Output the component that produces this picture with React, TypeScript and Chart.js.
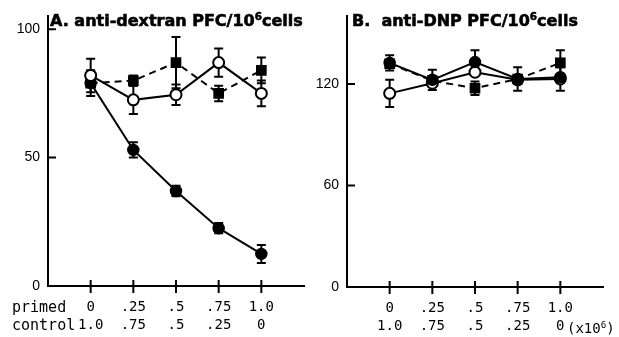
import React, { useEffect, useRef } from "react";
import { Chart, registerables } from "chart.js";
Chart.register(...registerables);

// ---- shared x categories / tick labels ----
const xValues = [0, 0.25, 0.5, 0.75, 1.0];
const primedLabels = ["0", ".25", ".5", ".75", "1.0"];
const controlLabels = ["1.0", ".75", ".5", ".25", "0"];

// ---- Panel A: anti-dextran PFC/10^6 cells ----
const aYTicks = [0, 50, 100];
const aFilledCircle = [79, 53, 37, 22.5, 12.5];
const aFilledCircleErr = [5, 3, 2, 2, 3.5];
const aFilledSquare = [79, 80, 87, 75, 84];
const aFilledSquareErr = [0, 2, 10, 3, 5];
const aOpenCircle = [82, 72.5, 74.5, 87, 75];
const aOpenCircleErr = [6.5, 5.5, 4, 5.5, 5];

// ---- Panel B: anti-DNP PFC/10^6 cells ----
const bYTicks = [0, 60, 120];
const bFilledCircle = [132.5, 122.5, 133, 123, 124];
const bFilledCircleErr = [4.5, 6, 7, 7, 0];
const bFilledSquare = [132, 122, 117.5, 123, 132.5];
const bFilledSquareErr = [0, 0, 4, 0, 7.5];
const bOpenCircle = [114.5, 120.5, 127, 122.5, 123];
const bOpenCircleErr = [8, 0, 0, 0, 7];

const toPts = (ys: number[]) => xValues.map((x, i) => ({ x, y: ys[i] }));

const errorBarPlugin = {
  id: "errorBars",
  beforeDatasetsDraw(chart: any) {
    const { ctx } = chart;
    const xs = chart.scales.x;
    const ys = chart.scales.y;
    ctx.save();
    ctx.strokeStyle = "#000";
    ctx.lineWidth = 2;
    ctx.setLineDash([]);
    chart.data.datasets.forEach((ds: any) => {
      if (!ds.errors) return;
      ds.data.forEach((p: any, i: number) => {
        const e = ds.errors[i];
        if (!e) return;
        const px = xs.getPixelForValue(p.x);
        const top = ys.getPixelForValue(p.y + e);
        const bot = ys.getPixelForValue(p.y - e);
        ctx.beginPath();
        ctx.moveTo(px, top);
        ctx.lineTo(px, bot);
        ctx.moveTo(px - 4.5, top);
        ctx.lineTo(px + 4.5, top);
        ctx.moveTo(px - 4.5, bot);
        ctx.lineTo(px + 4.5, bot);
        ctx.stroke();
      });
    });
    ctx.restore();
  },
};

const tickMarkPlugin = {
  id: "tickMarks",
  afterDraw(chart: any) {
    const { ctx, chartArea } = chart;
    const xs = chart.scales.x;
    const ys = chart.scales.y;
    const yt: number[] = chart.options.plugins.tickMarks.yTicks;
    ctx.save();
    ctx.strokeStyle = "#000";
    ctx.lineWidth = 2;
    ctx.beginPath();
    yt.forEach((v) => {
      const py = ys.getPixelForValue(v);
      ctx.moveTo(chartArea.left, py);
      ctx.lineTo(chartArea.left + 8, py);
    });
    xValues.forEach((v) => {
      const px = xs.getPixelForValue(v);
      ctx.moveTo(px, chartArea.bottom - 6);
      ctx.lineTo(px, chartArea.bottom + 7);
    });
    ctx.stroke();
    ctx.restore();
  },
};

function makeConfig(p: any) {
  const line = (data: number[], errors: number[], style: string, order: number) => {
    const base: any = {
      data: toPts(data),
      errors,
      order,
      borderColor: "#000",
      borderWidth: 2,
      pointRadius: 5.5,
      pointBorderColor: "#000",
      pointBorderWidth: 1.5,
      pointBackgroundColor: "#000",
      pointStyle: "circle",
      fill: false,
      tension: 0,
    };
    if (style === "open") {
      base.pointBackgroundColor = "#fff";
      base.pointBorderWidth = 2;
    }
    if (style === "square") {
      base.pointStyle = "rect";
      base.pointRadius = 6.5;
      base.borderDash = [7, 5];
    }
    return base;
  };
  return {
    type: "line",
    data: {
      datasets: [
        line(p.filled, p.filledErr, "filled", p.orders[0]),
        line(p.square, p.squareErr, "square", p.orders[1]),
        line(p.open, p.openErr, "open", p.orders[2]),
      ],
    },
    options: {
      animation: false,
      responsive: false,
      maintainAspectRatio: false,
      devicePixelRatio: 1,
      layout: { padding: { left: 0, right: p.padRight, top: 12, bottom: 0 } },
      plugins: {
        legend: { display: false },
        tooltip: { enabled: false },
        title: { display: false },
        tickMarks: { yTicks: p.yTicks },
      },
      scales: {
        x: {
          type: "linear",
          min: -0.25,
          max: 1.25,
          grid: { display: false, drawTicks: false },
          border: { display: true, color: "#000", width: 2 },
          afterBuildTicks: (s: any) => {
            s.ticks = xValues.map((v) => ({ value: v }));
          },
          afterFit: (s: any) => {
            s.height = p.xHeight;
          },
          ticks: {
            autoSkip: false,
            maxRotation: 0,
            padding: 12,
            color: "#000",
            font: { family: "'DejaVu Sans Mono', monospace", size: 14, lineHeight: "18px" },
            callback: (v: number) => {
              const i = xValues.indexOf(v);
              return i < 0 ? "" : [primedLabels[i], controlLabels[i]];
            },
          },
        },
        y: {
          type: "linear",
          min: 0,
          max: p.yMax,
          grid: { display: false, drawTicks: false },
          border: { display: true, color: "#000", width: 2 },
          afterBuildTicks: (s: any) => {
            s.ticks = p.yTicks.map((v: number) => ({ value: v }));
          },
          afterFit: (s: any) => {
            s.width = p.yWidth;
          },
          ticks: {
            padding: 8,
            color: "#000",
            font: { family: "'Liberation Sans', Arial, sans-serif", size: 14 },
          },
        },
      },
    },
    plugins: [errorBarPlugin, tickMarkPlugin],
  };
}

function Panel({ left, width, cfg }: any) {
  const ref = useRef<HTMLCanvasElement>(null);
  useEffect(() => {
    const chart = new Chart(ref.current as HTMLCanvasElement, makeConfig(cfg) as any);
    return () => chart.destroy();
  }, []);
  return (
    <canvas
      ref={ref}
      width={width}
      height={337}
      style={{ position: "absolute", left, top: 0, width, height: 337 }}
    />
  );
}

const titleStyle: React.CSSProperties = {
  position: "absolute",
  top: 8,
  fontFamily: "'DejaVu Sans', sans-serif",
  fontWeight: 900,
  fontSize: 16,
  lineHeight: "16px",
  whiteSpace: "nowrap",
  color: "#000",
  WebkitTextStroke: "0.6px #000",
};
const monoStyle: React.CSSProperties = {
  position: "absolute",
  fontFamily: "'DejaVu Sans Mono', monospace",
  fontSize: 15,
  lineHeight: "18px",
  whiteSpace: "nowrap",
  color: "#000",
};
const supStyle: React.CSSProperties = { fontSize: "0.65em", verticalAlign: "0.55em" };

export default function App() {
  const cfgA = {
    filled: aFilledCircle, filledErr: aFilledCircleErr,
    square: aFilledSquare, squareErr: aFilledSquareErr,
    open: aOpenCircle, openErr: aOpenCircleErr,
    orders: [1, 2, 0],
    yTicks: aYTicks, yMax: 105, yWidth: 48, padRight: 8, xHeight: 51,
  };
  const cfgB = {
    filled: bFilledCircle, filledErr: bFilledCircleErr,
    square: bFilledSquare, squareErr: bFilledSquareErr,
    open: bOpenCircle, openErr: bOpenCircleErr,
    orders: [0, 2, 1],
    yTicks: bYTicks, yMax: 160, yWidth: 42, padRight: 16, xHeight: 50,
  };
  return (
    <div style={{ position: "absolute", left: 0, top: 0, width: 619, height: 337, background: "#fff", overflow: "hidden" }}>
      <Panel left={0} width={312} cfg={cfgA} />
      <Panel left={305} width={314} cfg={cfgB} />
      <div style={{ ...titleStyle, left: 50 }}>
        A. anti-dextran PFC/10<span style={supStyle}>6</span>cells
      </div>
      <div style={{ ...titleStyle, left: 352 }}>
        B.&nbsp;&nbsp;anti-DNP PFC/10<span style={supStyle}>6</span>cells
      </div>
      <div style={{ ...monoStyle, left: 12, top: 298 }}>primed</div>
      <div style={{ ...monoStyle, left: 12, top: 316 }}>control</div>
      <div style={{ ...monoStyle, fontSize: 14, left: 567, top: 316 }}>
        (x10<span style={supStyle}>6</span>)
      </div>
    </div>
  );
}
